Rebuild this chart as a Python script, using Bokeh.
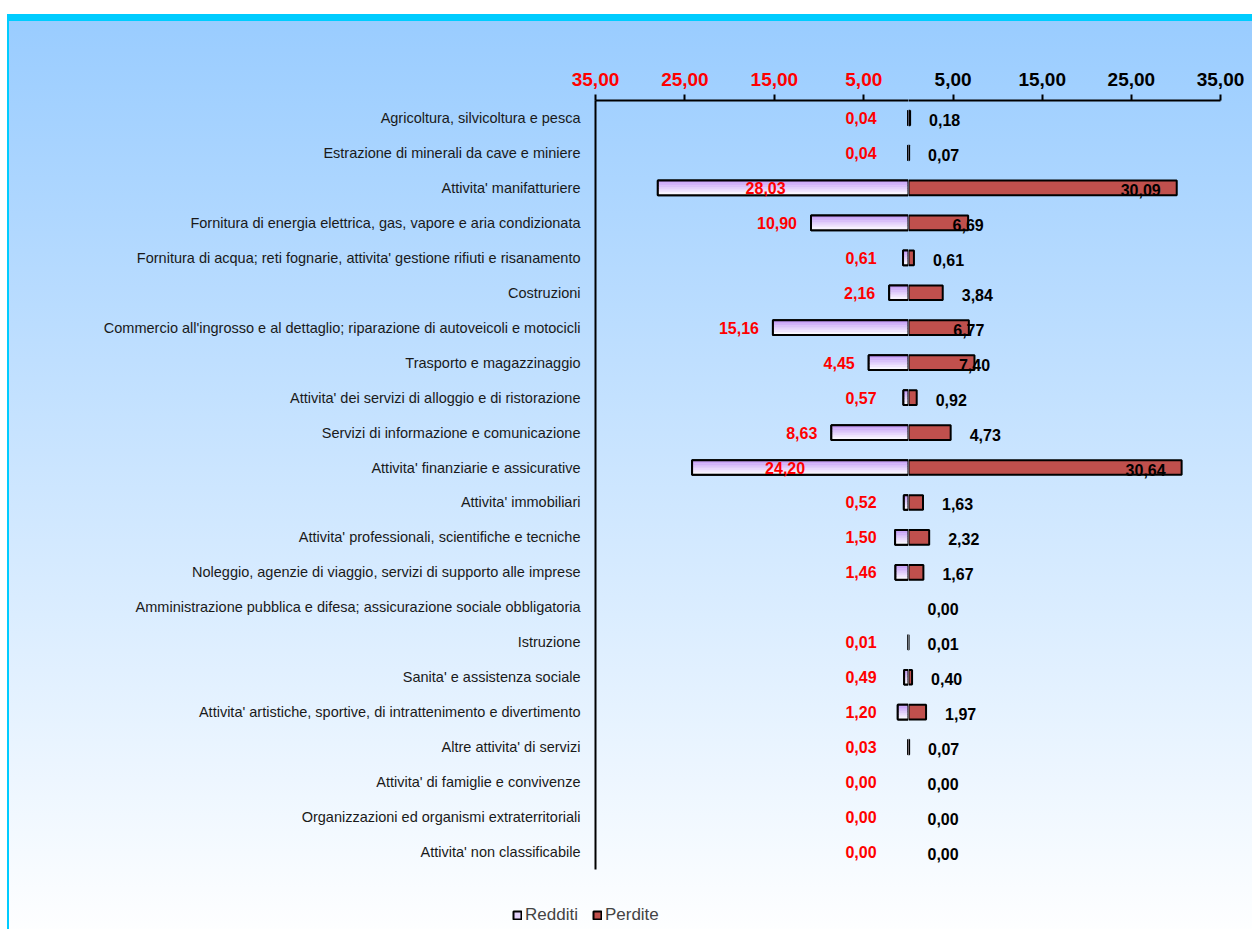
from bokeh.plotting import figure
from bokeh.layouts import row, column
from bokeh.models import ColumnDataSource, FixedTicker, Range1d, Legend, LegendItem
from bokeh.core.properties import value
from bokeh.embed import file_html
from bokeh.resources import INLINE

# ---- data -------------------------------------------------------------
categories = [
    "Agricoltura, silvicoltura e pesca",
    "Estrazione di minerali da cave e miniere",
    "Attivita' manifatturiere",
    "Fornitura di energia elettrica, gas, vapore e aria condizionata",
    "Fornitura di acqua; reti fognarie, attivita' gestione rifiuti e risanamento",
    "Costruzioni",
    "Commercio all'ingrosso e al dettaglio; riparazione di autoveicoli e motocicli",
    "Trasporto e magazzinaggio",
    "Attivita' dei servizi di alloggio e di ristorazione",
    "Servizi di informazione e comunicazione",
    "Attivita' finanziarie e assicurative",
    "Attivita' immobiliari",
    "Attivita' professionali, scientifiche e tecniche",
    "Noleggio, agenzie di viaggio, servizi di supporto alle imprese",
    "Amministrazione pubblica e difesa; assicurazione sociale obbligatoria",
    "Istruzione",
    "Sanita' e assistenza sociale",
    "Attivita' artistiche, sportive, di intrattenimento e divertimento",
    "Altre attivita' di servizi",
    "Attivita' di famiglie e convivenze",
    "Organizzazioni ed organismi extraterritoriali",
    "Attivita' non classificabile",
]
redditi = [0.04, 0.04, 28.03, 10.90, 0.61, 2.16, 15.16, 4.45, 0.57, 8.63, 24.20,
           0.52, 1.50, 1.46, None, 0.01, 0.49, 1.20, 0.03, 0.00, 0.00, 0.00]
perdite = [0.18, 0.07, 30.09, 6.69, 0.61, 3.84, 6.77, 7.40, 0.92, 4.73, 30.64,
           1.63, 2.32, 1.67, 0.00, 0.01, 0.40, 1.97, 0.07, 0.00, 0.00, 0.00]
ticks_redditi = [-35, -25, -15, -5]
ticks_perdite = [5, 15, 25, 35]

RED_FILL = "#C0504D"
LAVENDER = "#E2D0FA"
GRAD_TOP = (194, 152, 246)
GRAD_BOTTOM = (255, 255, 255)
FONT = "Liberation Sans"
BAR_H = 0.42
N_STRIPS = 9
LW = 2


def fmt(v):
    return f"{abs(v):.2f}".replace(".", ",")


n = len(categories)
idx = list(range(n))
y_range = Range1d(n - 0.5, -0.5)

common = dict(height=895, y_range=y_range, x_axis_location="above",
              output_backend="svg", toolbar_location=None,
              min_border_top=100, min_border_bottom=26)

# left half: income (Redditi), right half: losses (Perdite)
pl = figure(width=908, x_range=Range1d(-35, 0),
            min_border_left=595, min_border_right=0, **common)
pr = figure(width=344, x_range=Range1d(0, 35), y_axis_location=None,
            min_border_left=0, min_border_right=32, **common)

for f in (pl, pr):
    f.border_fill_color = None
    f.background_fill_color = None
    f.outline_line_color = None
    f.grid.visible = False


def style_top_axis(f, ticks, color):
    xa = f.xaxis[0]
    xa.ticker = FixedTicker(ticks=ticks)
    xa.major_label_overrides = {t: fmt(t) for t in ticks}
    xa.major_label_text_font = FONT
    xa.major_label_text_font_size = "19px"
    xa.major_label_text_font_style = "bold"
    xa.major_label_text_color = color
    xa.major_label_standoff = 9
    xa.axis_line_width = 2
    xa.major_tick_line_width = 2
    xa.major_tick_out = 6
    xa.major_tick_in = 0
    xa.minor_tick_line_color = None


style_top_axis(pl, ticks_redditi, "#FF0000")
style_top_axis(pr, ticks_perdite, "black")

ya = pl.yaxis[0]
ya.ticker = FixedTicker(ticks=idx)
ya.major_label_overrides = {i: c for i, c in enumerate(categories)}
ya.major_label_text_font = FONT
ya.major_label_text_font_size = "14.5px"
ya.major_label_text_color = "#1a1a1a"
ya.major_label_standoff = 9
ya.major_tick_line_color = None
ya.minor_tick_line_color = None
ya.axis_line_width = 2

# ---- Redditi bars (vertical lavender-to-white gradient) ---------------
r_rows = [i for i in idx if redditi[i] is not None]
base_src = ColumnDataSource(dict(
    y=r_rows,
    left=[-redditi[i] for i in r_rows],
    alpha=[1 if redditi[i] > 0 else 0 for i in r_rows],
))
pl.hbar(y="y", left="left", right=0, height=BAR_H, source=base_src,
        fill_color=LAVENDER, line_color="black", line_width=LW,
        line_alpha="alpha")

sy, sl, sc = [], [], []
for k in range(N_STRIPS):
    t = k / (N_STRIPS - 1)
    col = "#%02x%02x%02x" % tuple(int(round(a + (b - a) * t))
                                  for a, b in zip(GRAD_TOP, GRAD_BOTTOM))
    for i in r_rows:
        if redditi[i] > 0:
            sy.append(i - BAR_H / 2 + (k + 0.5) * BAR_H / N_STRIPS)
            sl.append(-redditi[i])
            sc.append(col)
pl.hbar(y=sy, left=sl, right=0, height=BAR_H / N_STRIPS * 1.05,
        fill_color=sc, line_color=None)
pl.hbar(y="y", left="left", right=0, height=BAR_H, source=base_src,
        fill_color=None, line_color="black", line_width=LW, line_alpha="alpha")

# ---- Perdite bars -----------------------------------------------------
perd_src = ColumnDataSource(dict(
    y=idx, right=perdite, alpha=[1 if v > 0 else 0 for v in perdite]))
pr.hbar(y="y", left=0, right="right", height=BAR_H, source=perd_src,
        fill_color=RED_FILL, line_color="black", line_width=LW,
        line_alpha="alpha")

# ---- value labels -----------------------------------------------------
red_groups = {"right": dict(x=[], y=[], t=[], xo=[]),
              "center": dict(x=[], y=[], t=[], xo=[])}
for i in r_rows:
    v = redditi[i]
    if v > 20:
        g = red_groups["center"]
        g["x"].append(-v * 0.57)
        g["xo"].append(0)
    else:
        g = red_groups["right"]
        g["x"].append(min(-v, -2.0))
        g["xo"].append(-14)
    g["y"].append(i)
    g["t"].append(fmt(v))
for align, g in red_groups.items():
    pl.text(x=g["x"], y=g["y"], text=g["t"], x_offset=g["xo"], y_offset=0,
            text_align=align, text_baseline="middle", text_color="#FF0000",
            text_font=value(FONT), text_font_style="bold", text_font_size="16px")

blk_groups = {"left": dict(x=[], y=[], t=[], xo=[]),
              "center": dict(x=[], y=[], t=[], xo=[]),
              "right": dict(x=[], y=[], t=[], xo=[])}
for i in idx:
    v = perdite[i]
    if v > 20:
        g = blk_groups["right"]
        g["xo"].append(-16)
    elif v > 5:
        g = blk_groups["center"]
        g["xo"].append(0)
    else:
        g = blk_groups["left"]
        g["xo"].append(19)
    g["x"].append(v)
    g["y"].append(i)
    g["t"].append(fmt(v))
for align, g in blk_groups.items():
    pr.text(x=g["x"], y=g["y"], text=g["t"], x_offset=g["xo"], y_offset=2,
            text_align=align, text_baseline="middle", text_color="black",
            text_font=value(FONT), text_font_style="bold", text_font_size="16px")

# ---- legend strip under the chart --------------------------------------
# the swatch renderers reuse the bar sources; the strip's ranges lie far
# from the data so only the legend itself shows there
pk = figure(width=1252, height=34, x_range=Range1d(-5070, -5000),
            y_range=Range1d(5000, 5001), output_backend="svg",
            toolbar_location=None, x_axis_location=None, y_axis_location=None,
            min_border_left=0, min_border_right=0, min_border_top=0,
            min_border_bottom=0)
pk.border_fill_color = None
pk.background_fill_color = None
pk.outline_line_color = None
pk.grid.visible = False
sw_r = pk.hbar(y="y", left="left", right=0, height=BAR_H, source=base_src,
               fill_color=LAVENDER, line_color="black", line_width=LW)
sw_p = pk.hbar(y="y", left=0, right="right", height=BAR_H, source=perd_src,
               fill_color=RED_FILL, line_color="black", line_width=LW)
legend = Legend(items=[LegendItem(label="Redditi", renderers=[sw_r]),
                       LegendItem(label="Perdite", renderers=[sw_p])],
                location=(512, 4), orientation="horizontal",
                glyph_width=10, glyph_height=10, label_standoff=3, spacing=14,
                padding=0, margin=0, background_fill_alpha=0,
                border_line_alpha=0, label_text_font=FONT,
                label_text_font_size="17px", label_height=20)
pk.add_layout(legend)

layout = column(row(pl, pr, spacing=0), pk, spacing=0)
layout.styles = {
    "background": (
        "linear-gradient(#ffffff,#ffffff) 0 0 / 100% 14px no-repeat,"
        "linear-gradient(#ffffff,#ffffff) 0 0 / 7px 100% no-repeat,"
        "linear-gradient(#00CCFF,#00CCFF) 7px 14px / 100% 7px no-repeat,"
        "linear-gradient(#00CCFF,#00CCFF) 7px 14px / 2px 100% no-repeat,"
        "linear-gradient(to bottom,#99CCFF 0%,#ffffff 100%) 7px 14px / 100% 100% no-repeat"
    )
}

open("out.html", "w").write(file_html(layout, INLINE))
